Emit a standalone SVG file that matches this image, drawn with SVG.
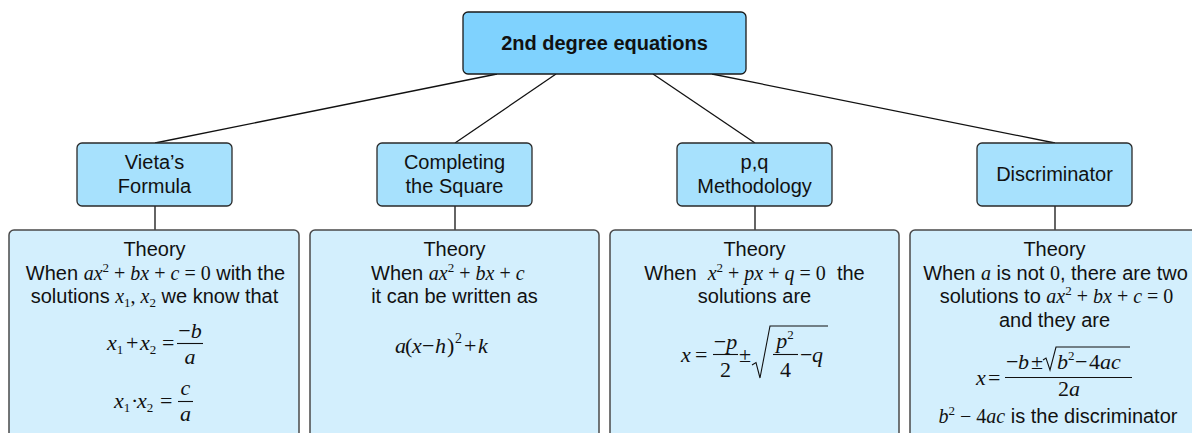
<svg xmlns="http://www.w3.org/2000/svg" width="1192" height="433" viewBox="0 0 1192 433">
<style>
.bg{fill:#ffffff}
.root{fill:#7fd2fe;stroke:#1a1a1a;stroke-width:1.3}
.mid{fill:#a7e1fd;stroke:#2a2a2a;stroke-width:1.3}
.th{fill:#d3effd;stroke:#4a4a4a;stroke-width:1.5}
.con line,.con path{stroke:#111;stroke-width:1.3;fill:none}
.t{font-family:"Liberation Sans",Arial,sans-serif;font-size:20px;fill:#111}
.b{font-weight:bold}
.mf{font-family:"Liberation Serif","Times New Roman",serif;font-size:22px;fill:#111}
.m{font-family:"Liberation Serif","Times New Roman",serif;font-style:italic}
.u{font-family:"Liberation Serif","Times New Roman",serif;font-style:normal}
.s{font-family:"Liberation Serif","Times New Roman",serif;font-style:normal;font-size:13px}
.fr{stroke:#111;stroke-width:1.1;fill:none}
</style>
<rect class="bg" x="0" y="0" width="1192" height="433"/>
<g id="connectors" class="con">
<line x1="497" y1="74" x2="155" y2="143"/>
<line x1="556" y1="74" x2="455" y2="143"/>
<line x1="653" y1="74" x2="755" y2="143"/>
<line x1="712" y1="74" x2="1055" y2="143"/>
<line x1="155" y1="206" x2="155" y2="230"/>
<line x1="455" y1="206" x2="455" y2="230"/>
<line x1="755" y1="206" x2="755" y2="230"/>
<line x1="1055" y1="206" x2="1055" y2="230"/>
</g>
<g id="root">
<rect class="root" x="463" y="12" width="283" height="62" rx="5"/>
<text class="t b" x="604.5" y="50" text-anchor="middle">2nd degree equations</text>
</g>
<g id="vieta">
<rect class="mid" x="77" y="143" width="155" height="63" rx="5"/>
<text class="t" x="154.5" y="169" text-anchor="middle">Vieta’s</text>
<text class="t" x="154.5" y="193" text-anchor="middle">Formula</text>
</g>
<g id="completing">
<rect class="mid" x="377" y="143" width="155" height="63" rx="5"/>
<text class="t" x="454.5" y="169" text-anchor="middle">Completing</text>
<text class="t" x="454.5" y="193" text-anchor="middle">the Square</text>
</g>
<g id="pq">
<rect class="mid" x="677" y="143" width="155" height="63" rx="5"/>
<text class="t" x="754.5" y="169" text-anchor="middle">p,q</text>
<text class="t" x="754.5" y="193" text-anchor="middle">Methodology</text>
</g>
<g id="discriminator">
<rect class="mid" x="977" y="143" width="155" height="63" rx="5"/>
<text class="t" x="1054.5" y="181" text-anchor="middle">Discriminator</text>
</g>
<g id="theory-vieta">
<rect class="th" x="9" y="230" width="290" height="230" rx="5"/>
<text class="t" x="154.5" y="256" text-anchor="middle">Theory</text>
<text class="t" x="155.5" y="280" text-anchor="middle">When <tspan class="m">ax</tspan><tspan class="s" dy="-8">2</tspan><tspan class="u" dy="8"> + </tspan><tspan class="m">bx</tspan><tspan class="u"> + </tspan><tspan class="m">c</tspan><tspan class="u"> = 0</tspan> with the</text>
<text class="t" x="154.5" y="303" text-anchor="middle">solutions <tspan class="m">x</tspan><tspan class="s" dy="4">1</tspan><tspan class="u" dy="-4">, </tspan><tspan class="m">x</tspan><tspan class="s" dy="4">2</tspan><tspan dy="-4"> we know that</tspan></text>
<text class="mf" y="350"><tspan class="m" x="107">x</tspan><tspan class="s" dy="4">1</tspan><tspan class="u" dy="-4" x="126">+</tspan><tspan class="m" x="140">x</tspan><tspan class="s" dy="4">2</tspan><tspan class="u" dy="-4" x="162">=</tspan></text>
<line class="fr" x1="177" y1="343.5" x2="203" y2="343.5"/>
<text class="mf" x="190" y="338" text-anchor="middle"><tspan class="u">−</tspan><tspan class="m">b</tspan></text>
<text class="mf m" x="190" y="364" text-anchor="middle">a</text>
<text class="mf" y="408"><tspan class="m" x="114">x</tspan><tspan class="s" dy="4">1</tspan><tspan class="u" dy="-4" x="131">·</tspan><tspan class="m" x="137">x</tspan><tspan class="s" dy="4">2</tspan><tspan class="u" dy="-4" x="160">=</tspan></text>
<line class="fr" x1="178" y1="401.5" x2="193" y2="401.5"/>
<text class="mf m" x="185.5" y="395" text-anchor="middle">c</text>
<text class="mf m" x="185.5" y="421" text-anchor="middle">a</text>
</g>
<g id="theory-completing">
<rect class="th" x="310" y="230" width="289" height="230" rx="5"/>
<text class="t" x="454.5" y="256" text-anchor="middle">Theory</text>
<text class="t" x="371" y="280">When <tspan class="m">ax</tspan><tspan class="s" dy="-8">2</tspan><tspan class="u" dy="8"> + </tspan><tspan class="m">bx</tspan><tspan class="u"> + </tspan><tspan class="m">c</tspan></text>
<text class="t" x="454.5" y="303" text-anchor="middle">it can be written as</text>
<text class="mf" y="353"><tspan class="m" x="395">a</tspan><tspan class="u" x="405">(</tspan><tspan class="m" x="412">x</tspan><tspan class="u" x="422">−</tspan><tspan class="m" x="435">h</tspan><tspan class="u" x="447">)</tspan><tspan class="u" x="455" dy="-10" style="font-size:14px">2</tspan><tspan class="u" x="464" dy="10">+</tspan><tspan class="m" x="478">k</tspan></text>
</g>
<g id="theory-pq">
<rect class="th" x="610" y="230" width="289" height="230" rx="5"/>
<text class="t" x="754.5" y="256" text-anchor="middle">Theory</text>
<text class="t" x="754.5" y="280" text-anchor="middle">When &#160;<tspan class="m">x</tspan><tspan class="s" dy="-8">2</tspan><tspan class="u" dy="8"> + </tspan><tspan class="m">px</tspan><tspan class="u"> + </tspan><tspan class="m">q</tspan><tspan class="u"> = 0</tspan> &#160;the</text>
<text class="t" x="754.5" y="303" text-anchor="middle">solutions are</text>
<text class="mf" y="362"><tspan class="m" x="681">x</tspan><tspan class="u" x="695">=</tspan><tspan class="u" x="739">±</tspan><tspan class="u" x="800">−</tspan><tspan class="m" x="812">q</tspan></text>
<line class="fr" x1="713" y1="354.5" x2="738" y2="354.5"/>
<text class="mf" x="725.5" y="349" text-anchor="middle"><tspan class="u">−</tspan><tspan class="m">p</tspan></text>
<text class="mf u" x="725.5" y="377" text-anchor="middle">2</text>
<path class="fr" d="M752,365 L756,362.5 L760,378 L770,326 L828,326"/>
<line class="fr" x1="773" y1="354.5" x2="798" y2="354.5"/>
<text class="mf" x="785" y="348" text-anchor="middle"><tspan class="m">p</tspan><tspan class="s" dy="-9">2</tspan></text>
<text class="mf u" x="785.5" y="377" text-anchor="middle">4</text>
</g>
<g id="theory-discriminator">
<rect class="th" x="910" y="230" width="300" height="230" rx="5"/>
<text class="t" x="1054.5" y="256" text-anchor="middle">Theory</text>
<text class="t" x="1055.5" y="280" text-anchor="middle">When <tspan class="m">a</tspan> is not <tspan class="u">0</tspan>, there are two</text>
<text class="t" x="1056.5" y="303" text-anchor="middle">solutions to <tspan class="m">ax</tspan><tspan class="s" dy="-8">2</tspan><tspan class="u" dy="8"> + </tspan><tspan class="m">bx</tspan><tspan class="u"> + </tspan><tspan class="m">c</tspan><tspan class="u"> = 0</tspan></text>
<text class="t" x="1054.5" y="327" text-anchor="middle">and they are</text>
<text class="mf" y="385"><tspan class="m" x="976">x</tspan><tspan class="u" x="988">=</tspan></text>
<line class="fr" x1="1005" y1="377.5" x2="1132" y2="377.5"/>
<text class="mf" y="369"><tspan class="u" x="1006">−</tspan><tspan class="m" x="1018">b</tspan><tspan class="u" x="1031">±</tspan><tspan class="m" x="1057">b</tspan><tspan class="s" dy="-9">2</tspan><tspan class="u" dy="9" x="1075">−</tspan><tspan class="u" x="1089">4</tspan><tspan class="m">ac</tspan></text>
<path class="fr" d="M1043,360 L1046,358 L1050,370 L1056,347 L1130,347"/>
<text class="mf" x="1069" y="396" text-anchor="middle"><tspan class="u">2</tspan><tspan class="m">a</tspan></text>
<text class="t" x="1058" y="423" text-anchor="middle"><tspan class="m">b</tspan><tspan class="s" dy="-8">2</tspan><tspan class="u" dy="8"> − 4</tspan><tspan class="m">ac</tspan> is the discriminator</text>
</g>
</svg>
